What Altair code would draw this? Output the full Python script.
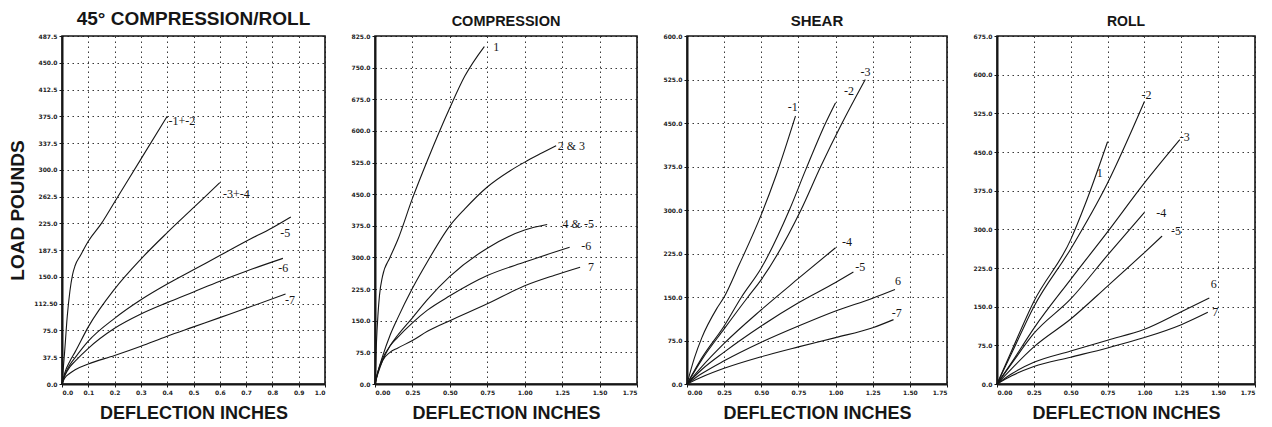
import altair as alt
import pandas as pd

# ---------------- data ----------------
# Panel 1: 45° COMPRESSION/ROLL
p1_x_12 = [0, 0.01, 0.02, 0.03, 0.04, 0.05, 0.07, 0.1, 0.15, 0.2, 0.3, 0.4]
p1_y_12 = [0, 45, 95, 130, 153, 166, 180, 200, 225, 255, 315, 375]
p1_x_34 = [0, 0.01, 0.03, 0.05, 0.1, 0.2, 0.3, 0.4, 0.5, 0.6]
p1_y_34 = [0, 15, 32, 45, 80, 133, 175, 212, 247, 282]
p1_x_5 = [0, 0.01, 0.03, 0.05, 0.1, 0.2, 0.3, 0.4, 0.5, 0.6, 0.7, 0.8, 0.87]
p1_y_5 = [0, 12, 27, 37, 60, 92, 118, 140, 160, 180, 200, 219, 234]
p1_x_6 = [0, 0.01, 0.03, 0.05, 0.1, 0.2, 0.3, 0.4, 0.5, 0.6, 0.7, 0.84]
p1_y_6 = [0, 11, 24, 32, 50, 78, 98, 114, 129, 144, 158, 176]
p1_x_7 = [0, 0.01, 0.03, 0.05, 0.1, 0.2, 0.3, 0.4, 0.5, 0.6, 0.7, 0.85]
p1_y_7 = [0, 8, 15, 20, 28, 40, 53, 67, 80, 93, 106, 126]
p1_label_text = ["-1+-2", "-3+-4", "-5", "-6", "-7"]
p1_label_x = [0.405, 0.612, 0.83, 0.822, 0.848]
p1_label_y = [369, 266, 212, 163, 118]
p1_xticks = [0, 0.1, 0.2, 0.3, 0.4, 0.5, 0.6, 0.7, 0.8, 0.9, 1.0]
p1_yticks = [0, 37.5, 75, 112.5, 150, 187.5, 225, 262.5, 300, 337.5, 375, 412.5, 450, 487.5]

# Panel 2: COMPRESSION
p2_x_1 = [0, 0.005, 0.01, 0.02, 0.03, 0.05, 0.1, 0.15, 0.25, 0.35, 0.5, 0.6, 0.73]
p2_y_1 = [0, 50, 100, 165, 210, 255, 300, 340, 440, 530, 655, 730, 800]
p2_x_23 = [0, 0.02, 0.05, 0.1, 0.15, 0.25, 0.35, 0.5, 0.6, 0.75, 0.9, 1.0, 1.1, 1.21]
p2_y_23 = [0, 30, 65, 115, 155, 227, 290, 375, 415, 467, 505, 526, 545, 565]
p2_x_45 = [0, 0.02, 0.05, 0.1, 0.15, 0.25, 0.35, 0.5, 0.75, 1.0, 1.15]
p2_y_45 = [0, 25, 55, 90, 115, 157, 200, 255, 322, 365, 378]
p2_x_6 = [0, 0.02, 0.05, 0.1, 0.15, 0.25, 0.35, 0.5, 0.75, 1.0, 1.3]
p2_y_6 = [0, 30, 60, 90, 110, 145, 175, 209, 257, 289, 324]
p2_x_7 = [0, 0.02, 0.05, 0.1, 0.15, 0.25, 0.35, 0.5, 0.75, 1.0, 1.2, 1.37]
p2_y_7 = [0, 28, 55, 75, 85, 103, 125, 150, 190, 233, 258, 277]
p2_label_text = ["1", "2 & 3", "4 & -5", "-6", "7"]
p2_label_x = [0.79, 1.22, 1.253, 1.377, 1.422]
p2_label_y = [799, 565, 380, 327, 277]
p2_xticks = [0, 0.25, 0.5, 0.75, 1.0, 1.25, 1.5, 1.75]
p2_yticks = [0, 75, 150, 225, 300, 375, 450, 525, 600, 675, 750, 825]

# Panel 3: SHEAR
p3_x_1 = [0, 0.05, 0.1, 0.2, 0.25, 0.35, 0.5, 0.6, 0.73]
p3_y_1 = [0, 45, 80, 130, 150, 205, 292, 360, 462]
p3_x_2 = [0, 0.1, 0.25, 0.367, 0.5, 0.689, 0.8, 0.933, 1.0]
p3_y_2 = [0, 45, 100, 150, 200, 300, 370, 450, 485]
p3_x_3 = [0, 0.1, 0.25, 0.41, 0.5, 0.767, 0.9, 1.044, 1.2]
p3_y_3 = [0, 42, 95, 150, 180, 300, 375, 450, 525]
p3_x_4 = [0, 0.1, 0.25, 0.5, 0.75, 1.0]
p3_y_4 = [0, 30, 70, 128, 182, 235]
p3_x_5 = [0, 0.1, 0.25, 0.5, 0.75, 1.0, 1.12]
p3_y_5 = [0, 25, 55, 100, 140, 175, 193]
p3_x_6 = [0, 0.1, 0.25, 0.5, 0.75, 1.0, 1.25, 1.4]
p3_y_6 = [0, 18, 40, 72, 100, 126, 148, 163]
p3_x_7 = [0, 0.1, 0.25, 0.5, 0.75, 1.0, 1.25, 1.39]
p3_y_7 = [0, 12, 27, 47, 64, 80, 97, 111]
p3_label_text = ["-1", "-2", "-3", "-4", "-5", "6", "-7"]
p3_label_x = [0.678, 1.056, 1.167, 1.044, 1.133, 1.4, 1.378]
p3_label_y = [477, 506, 538, 244, 201, 178, 123]
p3_xticks = [0, 0.25, 0.5, 0.75, 1.0, 1.25, 1.5, 1.75]
p3_yticks = [0, 75, 150, 225, 300, 375, 450, 525, 600]

# Panel 4: ROLL
p4_x_1 = [0, 0.1, 0.25, 0.5, 0.6, 0.75]
p4_y_1 = [0, 65, 160, 280, 350, 470]
p4_x_2 = [0, 0.1, 0.25, 0.5, 0.75, 1.0]
p4_y_2 = [0, 60, 150, 262, 390, 548]
p4_x_3 = [0, 0.1, 0.25, 0.5, 0.75, 1.0, 1.24]
p4_y_3 = [0, 42, 108, 203, 295, 390, 474]
p4_x_4 = [0, 0.1, 0.25, 0.5, 0.75, 1.0]
p4_y_4 = [0, 40, 98, 165, 250, 333]
p4_x_5 = [0, 0.1, 0.25, 0.5, 0.75, 1.0, 1.12]
p4_y_5 = [0, 30, 72, 126, 190, 255, 287]
p4_x_6 = [0, 0.1, 0.25, 0.5, 0.75, 1.0, 1.25, 1.44]
p4_y_6 = [0, 20, 42, 64, 85, 106, 140, 167]
p4_x_7 = [0, 0.1, 0.25, 0.5, 0.75, 1.0, 1.25, 1.43]
p4_y_7 = [0, 16, 34, 52, 70, 90, 115, 139]
p4_label_text = ["1", "-2", "-3", "-4", "-5", "6", "7"]
p4_label_x = [0.676, 0.98, 1.239, 1.08, 1.18, 1.45, 1.46]
p4_label_y = [409, 561, 480, 332, 297, 193, 139]
p4_xticks = [0, 0.25, 0.5, 0.75, 1.0, 1.25, 1.5, 1.75]
p4_yticks = [0, 75, 150, 225, 300, 375, 450, 525, 600, 675]


def lines_frame(series):
    rows = []
    for name, xs, ys in series:
        for i, (x, y) in enumerate(zip(xs, ys)):
            rows.append({"s": name, "x": x, "y": y, "o": i})
    return pd.DataFrame(rows)


def labels_frame(texts, xs, ys):
    return pd.DataFrame({"t": texts, "x": xs, "y": ys})


INK = "#161616"


def panel(lines_df, labels_df, title, title_size, xmax, xticks, xfmt,
          ymax, yticks, ylabel_expr, width, ytitle=None):
    xs = alt.Scale(domain=[0, xmax], nice=False, zero=True)
    ys = alt.Scale(domain=[0, ymax], nice=False, zero=True)
    xaxis = alt.Axis(values=xticks, format=xfmt, title="DEFLECTION INCHES",
                     titleFontSize=18, titlePadding=9, labelOverlap=False,
                     labelSeparation=0, labelBound=False)
    ykw = dict(values=yticks, labelExpr=ylabel_expr, labelOverlap=False,
               labelSeparation=0, labelBound=False)
    if ytitle:
        ykw.update(title=ytitle, titleFontSize=19, titlePadding=6)
    else:
        ykw.update(title="")
    yaxis = alt.Axis(**ykw)
    lines = alt.Chart(lines_df).mark_line(
        color=INK, strokeWidth=1.1, interpolate="monotone"
    ).encode(
        x=alt.X("x:Q", scale=xs, axis=xaxis),
        y=alt.Y("y:Q", scale=ys, axis=yaxis),
        detail="s:N",
        order="o:Q",
    )
    labels = alt.Chart(labels_df).mark_text(
        font="Liberation Serif", fontSize=12, align="left", baseline="middle",
        color=INK
    ).encode(
        x=alt.X("x:Q", scale=xs, axis=xaxis),
        y=alt.Y("y:Q", scale=ys, axis=yaxis),
        text="t:N",
    )
    return alt.layer(lines, labels).properties(
        width=width, height=348,
        title=alt.TitleParams(text=title, fontSize=title_size, font="Liberation Sans",
                              fontWeight="bold", color=INK, anchor="middle", offset=4),
    )


fmt1 = "format(datum.value, '.1f')"
p1 = panel(
    lines_frame([("-1+-2", p1_x_12, p1_y_12), ("-3+-4", p1_x_34, p1_y_34),
                 ("-5", p1_x_5, p1_y_5), ("-6", p1_x_6, p1_y_6), ("-7", p1_x_7, p1_y_7)]),
    labels_frame(p1_label_text, p1_label_x, p1_label_y),
    "45° COMPRESSION/ROLL", 19, 1.0, p1_xticks, ".1f", 487.5, p1_yticks,
    "datum.value == 112.5 ? '112.50' : format(datum.value, '.1f')", 263, ytitle="LOAD POUNDS",
)
p2 = panel(
    lines_frame([("1", p2_x_1, p2_y_1), ("2&3", p2_x_23, p2_y_23), ("4&5", p2_x_45, p2_y_45),
                 ("6", p2_x_6, p2_y_6), ("7", p2_x_7, p2_y_7)]),
    labels_frame(p2_label_text, p2_label_x, p2_label_y),
    "COMPRESSION", 14.5, 1.75, p2_xticks, ".2f", 825, p2_yticks, fmt1, 262,
)
p3 = panel(
    lines_frame([("1", p3_x_1, p3_y_1), ("2", p3_x_2, p3_y_2), ("3", p3_x_3, p3_y_3),
                 ("4", p3_x_4, p3_y_4), ("5", p3_x_5, p3_y_5), ("6", p3_x_6, p3_y_6),
                 ("7", p3_x_7, p3_y_7)]),
    labels_frame(p3_label_text, p3_label_x, p3_label_y),
    "SHEAR", 15, 1.75, p3_xticks, ".2f", 600, p3_yticks, fmt1, 260,
)
p4 = panel(
    lines_frame([("1", p4_x_1, p4_y_1), ("2", p4_x_2, p4_y_2), ("3", p4_x_3, p4_y_3),
                 ("4", p4_x_4, p4_y_4), ("5", p4_x_5, p4_y_5), ("6", p4_x_6, p4_y_6),
                 ("7", p4_x_7, p4_y_7)]),
    labels_frame(p4_label_text, p4_label_x, p4_label_y),
    "ROLL", 14, 1.75, p4_xticks, ".2f", 675, p4_yticks, fmt1, 258,
)

chart = alt.hconcat(p1, p2, p3, p4, spacing=50, bounds="flush").properties(
    padding={"left": 0, "top": 1, "right": 5, "bottom": 2},
    background="white",
).configure_view(
    stroke=INK, strokeWidth=1.6
).configure_axis(
    labelFont="DejaVu Sans", labelFontSize=6, labelFontWeight="bold", labelColor="#222",
    labelPadding=2, tickSize=3, tickColor=INK, domainColor=INK, domainWidth=2,
    labelOverlap=False, labelSeparation=0,
    grid=True, gridColor=INK, gridDash=[1.5, 3.5], gridWidth=1, gridOpacity=0.85,
    titleFont="Liberation Sans", titleFontWeight="bold", titleColor=INK,
)

chart.save("out.html", embed_options={"renderer": "svg", "actions": False})
